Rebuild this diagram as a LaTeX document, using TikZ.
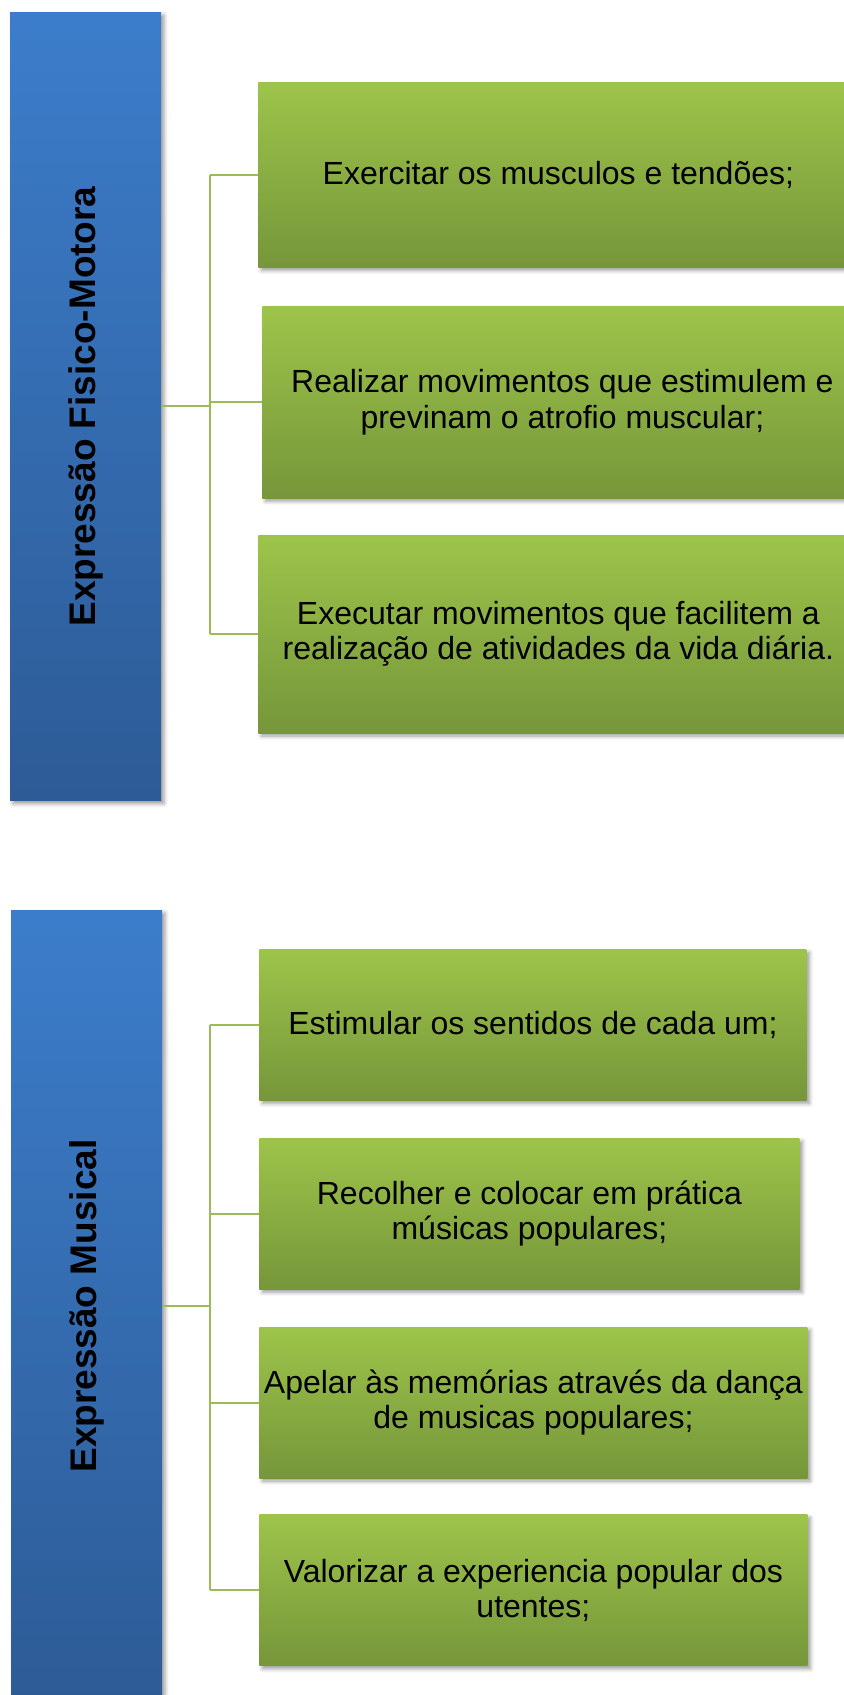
\documentclass[tikz,border=0pt]{standalone}
\usepackage{fontspec}
\setmainfont{Liberation Sans}
\usepackage{xcolor}
\usepackage{tikz}
\usetikzlibrary{positioning,shadows.blur}

\definecolor{blueTop}{HTML}{3C7DCB}
\definecolor{blueBot}{HTML}{2D5B96}
\definecolor{greenTop}{HTML}{9DC44A}
\definecolor{greenBot}{HTML}{76963A}
\definecolor{linkGreen}{HTML}{9BBB59}

\begin{document}
\begin{tikzpicture}[x=1pt, y=-1pt,
    catbox/.style={rectangle, inner sep=0pt, minimum width=75.5pt, minimum height=396pt,
      top color=blueTop, bottom color=blueBot,
      blur shadow={shadow xshift=1.5pt, shadow yshift=-1.5pt, shadow blur radius=2pt, shadow opacity=40}},
    cattext/.style={rotate=90, font=\fontsize{18.5}{22}\selectfont\bfseries},
    itembox/.style={rectangle, inner sep=0pt, minimum height=75.5pt, align=center,
      font=\fontsize{16}{17.7}\selectfont, top color=greenTop, bottom color=greenBot,
      blur shadow={shadow xshift=1.5pt, shadow yshift=-1.5pt, shadow blur radius=2pt, shadow opacity=40}},
    link/.style={draw=linkGreen, line width=1pt}]

    \useasboundingbox (0,0) rectangle (422,847.5);
    \clip (0,0) rectangle (422,847.5);

    % Rectangle Fisico-Motora
    \node [catbox, minimum height=394.3pt, label={[cattext]center:Expressão Fisico-Motora}] (fm) at (42.75,203.2) {};

    \node [itembox, minimum width=300pt, minimum height=92.5pt, anchor=north west] (fm1) at (129,41) {Exercitar os musculos e tendões;};

    \node [itembox, minimum width=300pt, minimum height=96pt, below=19pt of fm1.south west, anchor=north west, xshift=2pt] (fm2) {Realizar movimentos que estimulem e\\ previnam o atrofio muscular;};

    \node [itembox, minimum width=300pt, minimum height=99pt, below=18pt of fm2.south west, anchor=north west, xshift=-2pt] (fm3) {Executar movimentos que facilitem a\\ realização de atividades da vida diária.};

    % Rectangle Musical
    \node [catbox, label={[cattext]center:Expressão Musical}] (mu) at (43.25,653) {};

    \node [itembox, minimum width=273.5pt, anchor=north west] (mu1) at (129.5,474.5) {Estimular os sentidos de cada um;};

    \node [itembox, minimum width=270pt, below=18.5pt of mu1.south west, anchor=north west] (mu2) {Recolher e colocar em prática\\ músicas populares;};

    \node [itembox, minimum width=274pt, below=18.5pt of mu2.south west, anchor=north west] (mu3) {Apelar às memórias através da dança\\ de musicas populares;};

    \node [itembox, minimum width=274pt, below=18pt of mu3.south west, anchor=north west] (mu4) {Valorizar a experiencia popular dos\\ utentes;};

    % Lines
    \coordinate [right=24.5pt of fm.east] (fmbus);
    \draw[link] (fm.east) -- (fmbus);
    \draw[link] (fmbus |- fm1.west) -- (fmbus |- fm3.west);
    \foreach \n in {fm1,fm2,fm3}
      \draw[link] (fmbus |- \n.west) -- (\n.west);

    \coordinate [right=24pt of mu.east] (mubus);
    \draw[link] (mu.east) -- (mubus);
    \draw[link] (mubus |- mu1.west) -- (mubus |- mu4.west);
    \foreach \n in {mu1,mu2,mu3,mu4}
      \draw[link] (mubus |- \n.west) -- (\n.west);
  \end{tikzpicture}
\end{document}
